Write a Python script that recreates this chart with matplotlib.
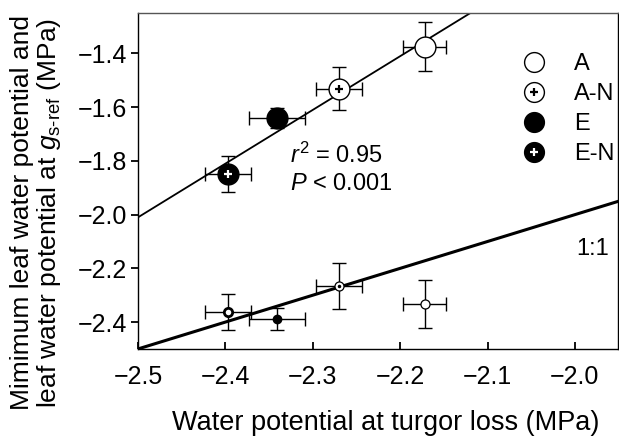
import numpy as np
import matplotlib
matplotlib.use("Agg")
import matplotlib.pyplot as plt

plt.rcParams['font.family'] = ['Liberation Sans', 'DejaVu Sans']
plt.rcParams['mathtext.fontset'] = 'custom'
plt.rcParams['mathtext.rm'] = 'Liberation Sans'
plt.rcParams['mathtext.it'] = 'Liberation Sans:italic'

# === Daten ===
groups = ['A', 'A-N', 'E', 'E-N']
turgor_loss = [-2.172, -2.270, -2.341, -2.397]
turgor_err = [0.025, 0.026, 0.032, 0.026]
gsref_wp = [-1.374, -1.531, -1.639, -1.848]
gsref_err = [0.09, 0.08, 0.037, 0.067]
min_wp = [-2.333, -2.266, -2.389, -2.363]
min_err = [0.09, 0.085, 0.042, 0.067]

reg_slope = 2.0
reg_intercept = 2.99

xticks = [-2.5, -2.4, -2.3, -2.2, -2.1, -2.0]
yticks = [-1.4, -1.6, -1.8, -2.0, -2.2, -2.4]

# === Stile ===
big_face = {'A': 'white', 'A-N': 'white', 'E': 'black', 'E-N': 'black'}
plus_col = {'A-N': 'black', 'E-N': 'white'}

fig = plt.figure(figsize=(6.19, 4.40), dpi=100)
ax = fig.add_axes([0.223, 0.207, 0.775, 0.763])

xlim = (-2.5, -1.951)
ax.set_xlim(xlim)
ax.set_ylim(-2.5, -1.25)

xs = np.array(xlim)
ax.plot(xs, xs, color='black', lw=2.2, zorder=2)
ax.plot(xs, reg_slope * xs + reg_intercept, color='black', lw=1.3, zorder=2)

handles = []
for i, g in enumerate(groups):
    # obere Punkte
    ax.errorbar(turgor_loss[i], gsref_wp[i], xerr=turgor_err[i], yerr=gsref_err[i],
                fmt='none', ecolor='black', elinewidth=1, capsize=5, capthick=1, zorder=3)
    h, = ax.plot(turgor_loss[i], gsref_wp[i], 'o', ms=15, mfc=big_face[g],
                 mec='black', mew=1, zorder=4)
    hs = [h]
    if g in plus_col:
        hp, = ax.plot(turgor_loss[i], gsref_wp[i], '+', ms=6, mew=1.6,
                      color=plus_col[g], zorder=5)
        hs.append(hp)
    handles.append(tuple(hs))

    # untere Punkte (Minimum)
    ax.errorbar(turgor_loss[i], min_wp[i], xerr=turgor_err[i], yerr=min_err[i],
                fmt='none', ecolor='black', elinewidth=1, capsize=5, capthick=1, zorder=3)
    if g == 'E':
        ax.plot(turgor_loss[i], min_wp[i], 'o', ms=6, mfc='black', mec='black', zorder=4)
    elif g == 'E-N':
        ax.plot(turgor_loss[i], min_wp[i], 'o', ms=6, mfc='white', mec='black', mew=2, zorder=4)
    else:
        ax.plot(turgor_loss[i], min_wp[i], 'o', ms=6.5, mfc='white', mec='black', mew=0.9, zorder=4)
        if g == 'A-N':
            ax.plot(turgor_loss[i], min_wp[i], '.', ms=3, color='black', zorder=5)

ax.legend(handles, groups, loc='upper left', bbox_to_anchor=(0.801, 0.88), frameon=False,
          fontsize=17, handletextpad=1.18, labelspacing=0.335, markerscale=0.95,
          handlelength=1.0, borderpad=0, borderaxespad=0)

ax.text(-2.326, -1.807, '$r^2$ = 0.95', fontsize=17)
ax.text(-2.326, -1.907, '$P$ < 0.001', fontsize=17)
ax.text(-1.961, -2.15, '1:1', fontsize=17, ha='right')

ax.set_xticks(xticks)
ax.set_xticklabels(['\u22122.5', '\u22122.4', '\u22122.3', '\u22122.2', '\u22122.1', '\u22122.0'])
ax.set_yticks(yticks)
ax.set_yticklabels(['\u22121.4', '\u22121.6', '\u22121.8', '\u22122.0', '\u22122.2', '\u22122.4'])
ax.tick_params(axis='x', direction='in', length=5, width=1.3, labelsize=18, pad=11.5)
ax.tick_params(axis='y', direction='out', length=5, width=1.3, labelsize=18, pad=3)
ax.set_xticks([], minor=True)

for s in ax.spines.values():
    s.set_linewidth(1.0)
ax.spines['top'].set_color('#555555')

ax.set_xlabel('Water potential at turgor loss (MPa)', fontsize=19.5)
ax.xaxis.set_label_coords(0.517, -0.181)
ax.set_ylabel('Mimimum leaf water potential and\nleaf water potential at $g_{\\mathrm{s\\text{-}ref}}$ (MPa)',
              fontsize=19, linespacing=1.05)
ax.yaxis.set_label_coords(-0.156, 0.405)

fig.savefig('out.png', dpi=100)
